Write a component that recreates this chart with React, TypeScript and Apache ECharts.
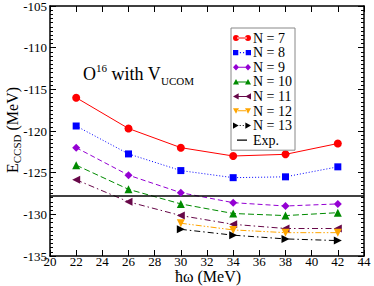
import React, { useEffect, useRef } from "react";
import * as echarts from "echarts";

const hw = [22, 26, 30, 34, 38, 42];
const hwHigh = [30, 34, 38, 42];
const n7 = [-116.0, -119.7, -122.0, -123.0, -122.8, -121.5];
const n8 = [-119.4, -122.75, -124.75, -125.6, -125.5, -124.3];
const n9 = [-122.0, -125.3, -127.4, -128.6, -129.0, -128.75];
const n10 = [-124.1, -127.0, -128.75, -129.9, -130.15, -129.8];
const n11 = [-125.85, -128.5, -130.15, -131.2, -131.7, -131.7];
const n12 = [-131.07, -131.87, -132.2, -132.2];
const n13 = [-131.8, -132.5, -132.95, -133.15];
const expValue = -127.8;
const xRange = [20, 44];
const yRange = [-135, -105];

const FONT = "Liberation Serif";

const pair = (xs: number[], ys: number[]) => xs.map((x, i) => [x, ys[i]]);

// legend icons: marker at both ends joined by a short line (18 x <=8 box)
const BAR = "M4,3.5 L14,3.5 L14,4.5 L4,4.5 Z";
const DOTS = "M7,3.5 L8,3.5 L8,4.5 L7,4.5 Z M10,3.5 L11,3.5 L11,4.5 L10,4.5 Z";
const ends = (shape: (cx: number) => string) => shape(3) + " " + shape(15);
const iconCircle = "path://" + ends((c) => `M${c - 3},4 A3,3 0 1,0 ${c + 3},4 A3,3 0 1,0 ${c - 3},4 Z`) + " " + BAR;
const iconSquare = "path://" + ends((c) => `M${c - 2.5},1.5 L${c + 2.5},1.5 L${c + 2.5},6.5 L${c - 2.5},6.5 Z`) + " " + DOTS;
const iconDiamond = "path://" + ends((c) => `M${c},0.8 L${c + 3},4 L${c},7.2 L${c - 3},4 Z`) + " " + BAR;
const iconUp = "path://" + ends((c) => `M${c - 3},6.5 L${c},1 L${c + 3},6.5 Z`) + " " + BAR;
const iconLeft = "path://" + ends((c) => `M${c - 3},4 L${c + 2.5},1 L${c + 2.5},7 Z`) + " " + BAR;
const iconDown = "path://" + ends((c) => `M${c - 3},1.5 L${c},7 L${c + 3},1.5 Z`) + " " + BAR;
const iconRight = "path://" + ends((c) => `M${c + 3},4 L${c - 2.5},1 L${c - 2.5},7 Z`) + " " + DOTS;
const iconExp = "path://M0,4 L0.01,4 L0.01,4.01 Z M4,3.4 L14,3.4 L14,4.6 L4,4.6 Z M17.99,4 L18,4 L18,4.01 Z";

export default function App() {
  const ref = useRef<HTMLDivElement>(null);
  useEffect(() => {
    if (!ref.current) return;
    const chart = echarts.init(ref.current, undefined, { renderer: "svg" });
    const mk = (
      name: string,
      xs: number[],
      ys: number[],
      color: string,
      symbol: string,
      size: number,
      rotate: number,
      dash: any
    ) => ({
      name,
      type: "line",
      data: pair(xs, ys),
      symbol,
      symbolSize: size,
      symbolRotate: rotate,
      itemStyle: { color },
      lineStyle: { color, width: 1, type: dash },
      emphasis: { disabled: true },
    });
    const axisCommon = {
      type: "value",
      axisLine: { show: true, onZero: false, lineStyle: { color: "#000", width: 1.5 } },
      splitLine: { show: false },
    };
    chart.setOption({
      animation: false,
      backgroundColor: "#fff",
      textStyle: { fontFamily: FONT },
      grid: { left: 50, right: 10, top: 6, bottom: 30, containLabel: false, outerBoundsMode: "none" },
      legend: {
        left: 231,
        top: 28,
        orient: "vertical",
        padding: [3, 3, 3, 2],
        itemWidth: 18,
        itemHeight: 8,
        itemGap: 0.6,
        symbolRotate: 0,
        borderColor: "#888",
        borderWidth: 1,
        backgroundColor: "#fff",
        formatter: (n: string) => `{l|${n}}`,
        textStyle: {
          fontFamily: FONT,
          fontSize: 14,
          color: "#000",
          lineHeight: 12,
          padding: [0, 0, 0, -3],
          rich: { l: { fontFamily: FONT, fontSize: 14, color: "#000", lineHeight: 12 } },
        },
        data: [
          { name: "N = 7", icon: iconCircle },
          { name: "N = 8", icon: iconSquare },
          { name: "N = 9", icon: iconDiamond },
          { name: "N = 10", icon: iconUp },
          { name: "N = 11", icon: iconLeft },
          { name: "N = 12", icon: iconDown },
          { name: "N = 13", icon: iconRight },
          { name: "Exp.", icon: iconExp },
        ],
      },
      xAxis: [
        {
          ...axisCommon,
          min: xRange[0],
          max: xRange[1],
          interval: 2,
          axisTick: { inside: true, length: 6, lineStyle: { color: "#000" } },
          axisLabel: {
            fontFamily: FONT,
            fontSize: 13,
            color: "#000",
            margin: 1,
            formatter: (v: number) => `{t|${v}}`,
            rich: { t: { fontFamily: FONT, fontSize: 13, color: "#000", lineHeight: 8 } },
          },
        },
        {
          ...axisCommon,
          position: "top",
          min: xRange[0],
          max: xRange[1],
          interval: 2,
          axisTick: { inside: true, length: 6, lineStyle: { color: "#000" } },
          axisLabel: { show: false },
        },
      ],
      yAxis: [
        {
          ...axisCommon,
          min: yRange[0],
          max: yRange[1],
          interval: 5,
          axisTick: { inside: true, length: 6, lineStyle: { color: "#000" } },
          minorTick: { show: true, splitNumber: 10, length: 3, lineStyle: { color: "#000" } },
          axisLabel: {
            fontFamily: FONT,
            fontSize: 13,
            color: "#000",
            margin: 3,
            formatter: (v: number) => `{t|${v}}`,
            rich: { t: { fontFamily: FONT, fontSize: 13, color: "#000", lineHeight: 14 } },
          },
        },
        {
          ...axisCommon,
          position: "right",
          min: yRange[0],
          max: yRange[1],
          interval: 5,
          axisTick: { inside: true, length: 6, lineStyle: { color: "#000" } },
          minorTick: { show: true, splitNumber: 10, length: 3, lineStyle: { color: "#000" } },
          axisLabel: { show: false },
        },
      ],
      graphic: [
        {
          type: "text",
          left: 83,
          top: 62,
          style: {
            text: "{m|O}{sup|16}{m| with V}{sub|UCOM}",
            rich: {
              m: { fontFamily: FONT, fontSize: 18, lineHeight: 24, fill: "#000" },
              sup: { fontFamily: FONT, fontSize: 11, lineHeight: 13, verticalAlign: "top", fill: "#000" },
              sub: { fontFamily: FONT, fontSize: 11, lineHeight: 13, verticalAlign: "bottom", fill: "#000" },
            },
          },
        },
        {
          type: "text",
          x: 12,
          y: 130,
          rotation: Math.PI / 2,
          style: {
            text: "{m|E}{sub|CCSD}{m| (MeV)}",
            align: "center",
            verticalAlign: "middle",
            rich: {
              m: { fontFamily: FONT, fontSize: 16, lineHeight: 20, fill: "#000" },
              sub: { fontFamily: FONT, fontSize: 11, lineHeight: 11, verticalAlign: "bottom", fill: "#000" },
            },
          },
        },
        {
          type: "text",
          x: 208,
          y: 276,
          style: {
            text: "ħω (MeV)",
            align: "center",
            verticalAlign: "middle",
            fontFamily: FONT,
            fontSize: 16,
            fill: "#000",
          },
        },
      ],
      series: [
        mk("N = 7", hw, n7, "#ff0000", "circle", 8, 0, "solid"),
        mk("N = 8", hw, n8, "#0000ff", "rect", 7, 0, [1, 2]),
        mk("N = 9", hw, n9, "#9400d3", "diamond", 8, 0, [5, 3]),
        mk("N = 10", hw, n10, "#008b00", "triangle", 8, 0, [6, 3]),
        mk("N = 11", hw, n11, "#670748", "triangle", 8, 90, [6, 3, 1.5, 3]),
        mk("N = 12", hwHigh, n12, "#ffa500", "triangle", 8, 180, [6, 2, 1.5, 2, 1.5, 2]),
        mk("N = 13", hwHigh, n13, "#000000", "triangle", 8, -90, [6, 3, 1.5, 3]),
        {
          name: "Exp.",
          type: "line",
          data: [[xRange[0], expValue], [xRange[1], expValue]],
          symbol: "none",
          itemStyle: { color: "#000" },
          lineStyle: { color: "#000", width: 1.5 },
          emphasis: { disabled: true },
        },
      ],
    });
    return () => chart.dispose();
  }, []);
  return (
    <div
      ref={ref}
      style={{ position: "fixed", left: 0, top: 0, width: 374, height: 286, background: "#fff" }}
    />
  );
}
